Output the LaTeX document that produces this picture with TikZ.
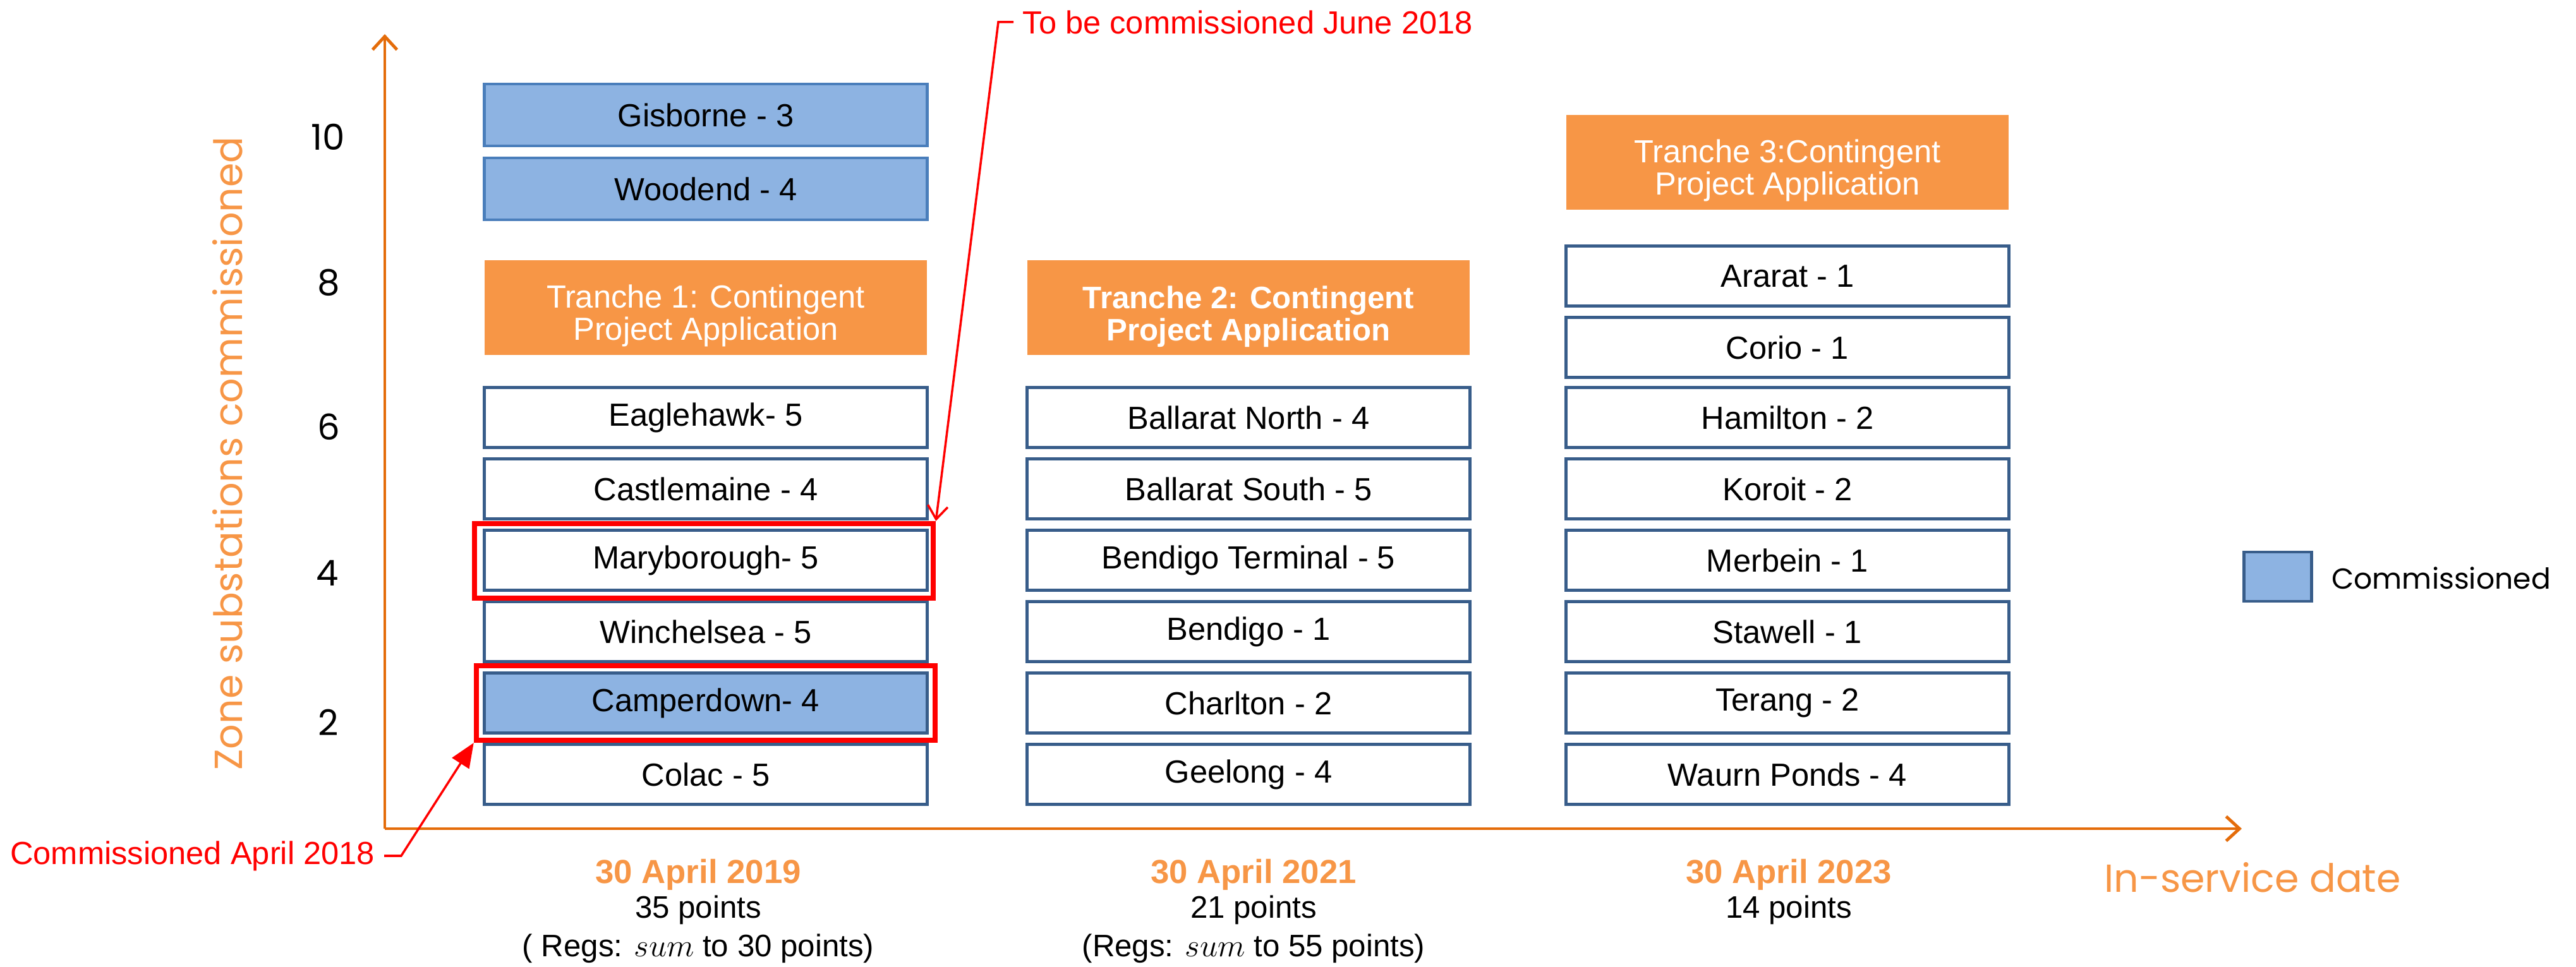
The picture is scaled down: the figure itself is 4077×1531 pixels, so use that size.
\documentclass[tikz,border=0pt]{standalone}
\usepackage{fontspec}
\setmainfont{Liberation Sans}
\newfontfamily\gothic{Poppins}
\usetikzlibrary{arrows.meta}
\definecolor{boxblue}{HTML}{385D8A}
\definecolor{lightblue}{HTML}{8DB3E2}
\definecolor{midblue}{HTML}{4A7EBB}
\definecolor{tranche}{HTML}{F79646}
\definecolor{axisor}{HTML}{E46C0A}
\definecolor{txtor}{HTML}{F79646}
\definecolor{annred}{HTML}{FF0000}
\begin{document}
\begin{tikzpicture}[x=0.01cm,y=-0.01cm,
  stbox/.style={draw=boxblue, line width=1.4pt, fill=white, minimum width=7cm, minimum height=0.95cm, inner sep=0pt, font=\fontsize{14.4}{17}\selectfont},
  combox/.style={stbox, fill=lightblue},
  trbox/.style={fill=tranche, minimum width=7cm, minimum height=1.5cm, inner sep=0pt, text=white, align=center, font=\fontsize{14.4}{14.5}\selectfont},
  redframe/.style={draw=annred, line width=2.3pt, minimum width=7.26cm, minimum height=1.18cm, inner sep=0pt},
  axisline/.style={draw=axisor, line width=1.4pt, -{Straight Barb[length=6pt,width=11pt,line width=1.4pt]}},
  annline/.style={draw=annred, line width=1pt},
  anntext/.style={text=annred, font=\fontsize{14.4}{17}\selectfont},
  tick/.style={font=\gothic\fontsize{16}{18}\selectfont},
  datestyle/.style={text=txtor, font=\bfseries\fontsize{15}{17}\selectfont},
  ptstyle/.style={font=\fontsize{14}{16}\selectfont},
  gothlab/.style={text=txtor, font=\gothic\fontsize{17.6}{20}\selectfont}
]
\useasboundingbox (0,0) rectangle (4077,1531);

% axes
\coordinate (O) at (609,1312);
\coordinate (ytop) at (609,54);
\coordinate (xend) at (3548,1312);
\draw[axisline] (O) -- (ytop);
\draw[axisline] (O) -- (xend);

\node[gothlab, rotate=90] (ylab) at (360,718) {Zone substations commissioned};
\node[gothlab] (xlab) at (3565,1389) {In-service date};

\node[tick] (t10) at (519,217) {10};
\node[tick] (t8) at (520,447) {8};
\node[tick] (t6) at (520,676) {6};
\node[tick] (t4) at (518,907) {4};
\node[tick] (t2) at (520,1144) {2};

% column 1
\node[combox, draw=midblue, minimum height=0.98cm] (gis) at (1117,182) {Gisborne - 3};
\node[combox, draw=midblue, minimum height=0.98cm] (woo) at (1117,299) {Woodend - 4};
\node[trbox] (tr1) at (1117,487) {\rule{0pt}{18pt}Tranche 1: Contingent\\Project Application};
\node[stbox] (eag) at (1117,661) {Eaglehawk- 5};
\node[stbox] (cas) at (1117,774) {Castlemaine - 4};
\node[stbox] (mar) at (1117,887) {Maryborough- 5};
\node[stbox] (win) at (1117,1000) {Winchelsea - 5};
\node[combox] (cam) at (1117,1113) {Camperdown- 4};
\node[stbox] (col) at (1117,1226) {Colac - 5};

% column 2
\node[trbox, font=\bfseries\fontsize{14}{14.5}\selectfont] (tr2) at (1976,487) {\rule{0pt}{18pt}Tranche 2: Contingent\\Project Application};
\node[stbox] (bn) at (1976,661) {Ballarat North - 4};
\node[stbox] (bs) at (1976,774) {Ballarat South - 5};
\node[stbox] (bt) at (1976,887) {Bendigo Terminal - 5};
\node[stbox] (be) at (1976,1000) {Bendigo - 1};
\node[stbox] (ch) at (1976,1113) {Charlton - 2};
\node[stbox] (ge) at (1976,1226) {Geelong - 4};

% column 3
\node[trbox] (tr3) at (2829,257) {\rule{0pt}{18pt}Tranche 3:Contingent\\Project Application};
\node[stbox] (ar) at (2829,437) {Ararat - 1};
\node[stbox] (co) at (2829,550) {Corio - 1};
\node[stbox] (ha) at (2829,661) {Hamilton - 2};
\node[stbox] (ko) at (2829,774) {Koroit - 2};
\node[stbox] (me) at (2829,887) {Merbein - 1};
\node[stbox] (st) at (2829,1000) {Stawell - 1};
\node[stbox] (te) at (2829,1113) {Terang - 2};
\node[stbox] (wp) at (2829,1226) {Waurn Ponds - 4};

% red frames
\node[redframe] (redM) at (1114,888) {};
\node[redframe] (redC) at (1117,1113) {};

% annotations
\node[anntext, anchor=west, inner sep=4pt] (lbl1) at (1604,35) {To be commissioned June 2018};
\draw[annline, -{Straight Barb[length=6pt,width=9pt,line width=1pt]}] (lbl1.west) -- ++(-24,0) -- (redM.north east);
\node[anntext, anchor=east, inner sep=4pt] (lbl2) at (608,1355) {Commissioned April 2018};
\draw[annline, -{Triangle[length=11pt,width=9pt]}] (lbl2.east) -- ++(27,0) -- (redC.south west);

% bottom labels
\node[datestyle] (d1) at (1105,1385) {30 April 2019};
\node[ptstyle] (p1) at (1105,1441) {35 points};
\node[ptstyle] (r1) at (1105,1502) {( Regs: $sum$ to 30 points)};
\node[datestyle] (d2) at (1984,1385) {30 April 2021};
\node[ptstyle] (p2) at (1984,1441) {21 points};
\node[ptstyle] (r2) at (1984,1502) {(Regs: $sum$ to 55 points)};
\node[datestyle] (d3) at (2831,1385) {30 April 2023};
\node[ptstyle] (p3) at (2831,1441) {14 points};

% legend
\node[draw=boxblue, fill=lightblue, line width=1.4pt, minimum width=1.07cm, minimum height=0.78cm, inner sep=0pt] (leg) at (3605,913) {};
\node[anchor=west, inner sep=3pt, font=\gothic\fontsize{13}{16}\selectfont] (legt) at (3679,915) {Commissioned};
\end{tikzpicture}
\end{document}
